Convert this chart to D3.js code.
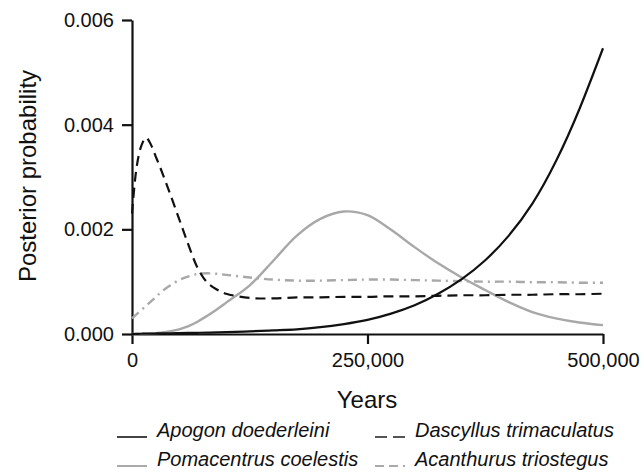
<!DOCTYPE html>
<html>
<head>
<meta charset="utf-8">
<script src="https://cdn.jsdelivr.net/npm/d3@7"></script>
<style>
  html, body { margin: 0; padding: 0; background: #fff; }
  svg { display: block; }
</style>
</head>
<body>
<svg id="chart" width="644" height="473"></svg>
<script>
// ---- Data ----
const years = [0, 5000, 10000, 15000, 20000, 25000, 30000, 40000, 50000, 60000, 70000, 80000, 90000, 100000,
  125000, 150000, 175000, 200000, 225000, 250000, 275000, 300000, 325000, 350000, 375000, 400000, 425000, 450000, 475000, 500000];

const apogon = [0, 0.000003, 0.000005, 0.000007, 0.000008, 0.00001, 0.000011, 0.000014, 0.000017, 0.00002, 0.000023, 0.000027, 0.000031, 0.000036,
  0.00005, 0.00007, 0.00009, 0.00013, 0.00019, 0.00027, 0.00039, 0.00055, 0.00077, 0.00105, 0.00141, 0.00188, 0.00249, 0.0033, 0.0043, 0.00546];

const pomacentrus = [0, 0, 0.000003, 0.000006, 0.00001, 0.000016, 0.000025, 0.00005, 0.00009, 0.00015, 0.00024, 0.00035, 0.00047, 0.0006,
  0.00093, 0.0014, 0.00188, 0.0022, 0.00234, 0.00227, 0.00199, 0.00166, 0.00135, 0.00108, 0.00084, 0.00061, 0.00042, 0.0003, 0.00022, 0.00017];

const dascyllus = [0.0023, 0.0032, 0.0036, 0.00375, 0.00362, 0.0034, 0.00318, 0.0027, 0.0022, 0.0017, 0.00125, 0.00098, 0.00085, 0.00077,
  0.00069, 0.00068, 0.0007, 0.0007, 0.00071, 0.00071, 0.00072, 0.00072, 0.00073, 0.00074, 0.00074, 0.00075, 0.00075, 0.00076, 0.00076, 0.00077];

const acanthurus = [0.0003, 0.00038, 0.00046, 0.00054, 0.00062, 0.0007, 0.00079, 0.00092, 0.00103, 0.0011, 0.00115, 0.00116, 0.00115, 0.00113,
  0.00108, 0.00104, 0.00102, 0.00102, 0.00103, 0.00104, 0.00104, 0.00103, 0.00102, 0.00101, 0.001, 0.001, 0.00099, 0.00099, 0.00098, 0.00098];

const seriesNames = ["Apogon doederleini", "Dascyllus trimaculatus", "Pomacentrus coelestis", "Acanthurus triostegus"];
const xTickValues = [0, 250000, 500000];
const yTickValues = [0, 0.002, 0.004, 0.006];

// ---- Styles ----
const styles = {
  "Apogon doederleini":     { data: apogon,      color: "#111", width: 2.2, dash: null,          curve: d3.curveNatural, legendColor: "#444", legendDash: null },
  "Dascyllus trimaculatus": { data: dascyllus,   color: "#111", width: 2.2, dash: "10,6",        curve: d3.curveCatmullRom.alpha(0.5), legendColor: "#555", legendDash: "12,6" },
  "Pomacentrus coelestis":  { data: pomacentrus, color: "#a8a8a8", width: 2.4, dash: null,       curve: d3.curveCatmullRom.alpha(0.5), legendColor: "#aaa", legendDash: null },
  "Acanthurus triostegus":  { data: acanthurus,  color: "#a8a8a8", width: 2.4, dash: "9,5,2,5",  curve: d3.curveCatmullRom.alpha(0.5), legendColor: "#aaa", legendDash: "9,5,9,5,2,5" }
};

const svg = d3.select("#chart");
const x = d3.scaleLinear().domain([0, 500000]).range([132, 603]);
const y = d3.scaleLinear().domain([0, 0.006]).range([334, 20]);

const font = "'Liberation Sans', Arial, Helvetica, sans-serif";

// Axes
const xAxis = d3.axisBottom(x).tickValues(xTickValues).tickSize(10).tickSizeOuter(0).tickPadding(9)
  .tickFormat(d3.format(",d"));
const yAxis = d3.axisLeft(y).tickValues(yTickValues).tickSize(10).tickSizeOuter(0).tickPadding(8)
  .tickFormat(d3.format(".3f"));

const gx = svg.append("g").attr("transform", "translate(0,334)").call(xAxis);
const gy = svg.append("g").attr("transform", "translate(132,0)").call(yAxis);
[gx, gy].forEach(g => {
  g.select(".domain").attr("stroke", "#111").attr("stroke-width", 2.2);
  g.selectAll(".tick line").attr("stroke", "#111").attr("stroke-width", 2.2);
  g.selectAll(".tick text").attr("fill", "#111").style("font-family", font).style("font-size", "20px");
});

// Axis titles
svg.append("text").attr("x", 367).attr("y", 408).attr("text-anchor", "middle")
  .style("font-family", font).style("font-size", "24px").attr("fill", "#111").text("Years");
svg.append("text").attr("transform", "translate(36,176) rotate(-90)").attr("text-anchor", "middle")
  .style("font-family", font).style("font-size", "24px").attr("fill", "#111").text("Posterior probability");

// Lines (grey first, black on top)
const drawOrder = ["Pomacentrus coelestis", "Acanthurus triostegus", "Dascyllus trimaculatus", "Apogon doederleini"];
drawOrder.forEach(name => {
  const s = styles[name];
  const line = d3.line().x((d, i) => x(years[i])).y(d => y(d)).curve(s.curve);
  svg.append("path").datum(s.data).attr("d", line)
    .attr("fill", "none").attr("stroke", s.color).attr("stroke-width", s.width)
    .attr("stroke-dasharray", s.dash).attr("stroke-linejoin", "round");
});

// Legend
const legendPos = [
  { lx: 117, ty: 437 }, { lx: 375, ty: 437 },
  { lx: 117, ty: 466 }, { lx: 375, ty: 466 }
];
seriesNames.forEach((name, i) => {
  const s = styles[name];
  const p = legendPos[i];
  svg.append("line").attr("x1", p.lx).attr("x2", p.lx + 30).attr("y1", p.ty).attr("y2", p.ty)
    .attr("stroke", s.legendColor).attr("stroke-width", 2).attr("stroke-dasharray", s.legendDash);
  svg.append("text").attr("x", p.lx + 40).attr("y", p.ty)
    .style("font-family", font).style("font-size", "20px").style("font-style", "italic")
    .attr("fill", "#111").text(name);
});
</script>
</body>
</html>
